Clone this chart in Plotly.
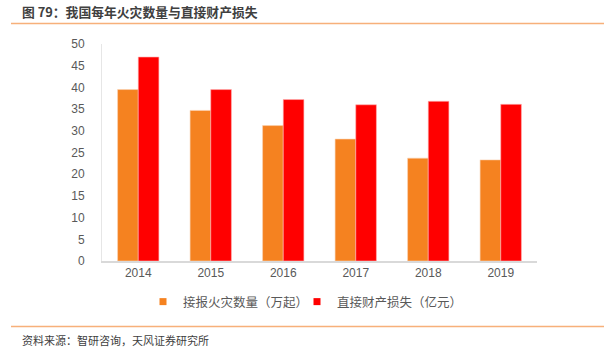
import plotly.graph_objects as go

years = ["2014", "2015", "2016", "2017", "2018", "2019"]
fires = [39.5, 34.7, 31.2, 28.1, 23.7, 23.3]
loss = [47.0, 39.5, 37.2, 36.0, 36.8, 36.1]
y_ticks = [0, 5, 10, 15, 20, 25, 30, 35, 40, 45, 50]

W, H = 604, 355
L, R, T, B = 102, 537, 44, 261
pw, ph = R - L, B - T

def px(x):
    return (x - L) / pw

def py(y):
    return (B - y) / ph

font = "Noto Sans CJK SC"
c1, c2 = "#F58220", "#FF0000"
n1, n2 = "接报火灾数量（万起）", "直接财产损失（亿元）"
fig = go.Figure()
fig.add_trace(go.Bar(x=years, y=fires, name=n1, showlegend=False,
                     marker=dict(color=c1, line=dict(color="#FAD3B5", width=0.6))))
fig.add_trace(go.Bar(x=years, y=loss, name=n2, showlegend=False,
                     marker=dict(color=c2, line=dict(color="#FFB3B3", width=0.6))))
for n, c, lg in ((n1, c1, "legend"), (n2, c2, "legend2")):
    fig.add_trace(go.Scatter(x=[None], y=[None], mode="markers", name=n, legend=lg,
                             marker=dict(symbol="square", size=7, color=c)))

leg = dict(orientation="h", xanchor="left", y=py(302), yanchor="middle",
           font=dict(size=12.5, color="#595959"), itemwidth=30, bgcolor="rgba(0,0,0,0)")
fig.update_layout(
    width=W, height=H,
    margin=dict(l=L, r=W - R, t=T, b=H - B),
    paper_bgcolor="white", plot_bgcolor="white",
    barmode="group", bargap=0.43, bargroupgap=0,
    font=dict(family=font, size=12, color="#595959"),
    showlegend=True,
    legend=dict(leg, x=px(143)),
    legend2=dict(leg, x=px(297)),
    xaxis=dict(showline=True, linecolor="#D9D9D9", linewidth=1.5, ticks="",
               tickfont=dict(family="Liberation Sans", size=12, color="#595959")),
    yaxis=dict(range=[0, 50], tickvals=y_ticks, showgrid=False, showline=True,
               linecolor="#E6E6E6", linewidth=1, ticks="", zeroline=False,
               ticklabelstandoff=14,
               tickfont=dict(family="Liberation Sans", size=12, color="#595959")),
)

fig.add_annotation(text="<b>图 79：我国每年火灾数量与直接财产损失</b>", xref="paper", yref="paper",
                   x=px(20), y=py(12), xanchor="left", yanchor="middle", showarrow=False,
                   font=dict(family=font, size=12.8, color="#404040"))
fig.add_annotation(text="资料来源：智研咨询，天风证券研究所", xref="paper", yref="paper",
                   x=px(20), y=py(340), xanchor="left", yanchor="middle", showarrow=False,
                   font=dict(family=font, size=11, color="#404040"))
for yy in (23.5, 326.5):
    fig.add_shape(type="line", xref="paper", yref="paper", x0=px(11), x1=px(604),
                  y0=py(yy), y1=py(yy), line=dict(color="#F7B07A", width=1.6))

fig.write_html("out.html", config={"displayModeBar": False},
               post_script="document.body.style.margin='0';")
